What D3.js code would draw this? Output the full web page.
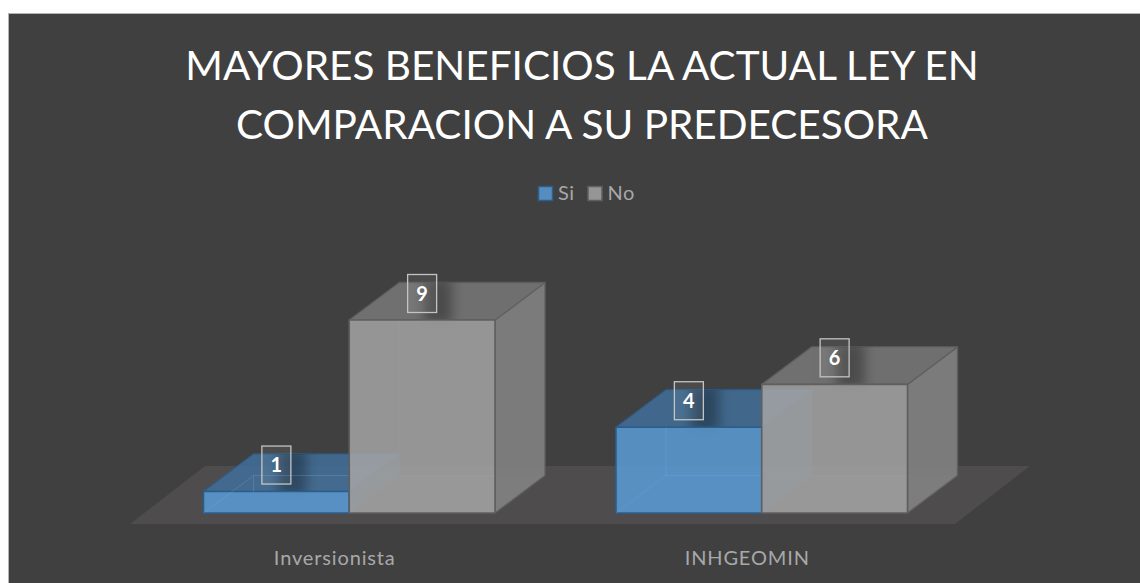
<!DOCTYPE html>
<html><head><meta charset="utf-8">
<script src="https://cdn.jsdelivr.net/npm/d3@7"></script>
<style>html,body{margin:0;padding:0;background:#fff;overflow:hidden}svg{display:block}text{font-family:Lato,"Open Sans",sans-serif}</style>
</head><body><div id="c"></div>
<script>
const titleLines = ["MAYORES BENEFICIOS LA ACTUAL LEY EN","COMPARACION A SU PREDECESORA"];
const categories = ["Inversionista","INHGEOMIN"];
const seriesNames = ["Si","No"];
const siValues = [1,4];
const noValues = [9,6];

const W=1140,H=583;
const svg=d3.select("#c").append("svg").attr("width",W).attr("height",H);
const defs=svg.append("defs");
defs.append("filter").attr("id","blur").attr("x","-60%").attr("y","-60%").attr("width","220%").attr("height","220%")
  .append("feGaussianBlur").attr("stdDeviation",6);

svg.append("rect").attr("x",8.5).attr("y",13.5).attr("width",W).attr("height",H)
  .attr("fill","#404040").attr("stroke","#b4b4b4").attr("stroke-width",1);

const x0=d3.scaleBand().domain(categories).range([130,955]);
const x1=d3.scaleBand().domain(seriesNames).range([73.5,365]);
const y=d3.scaleLinear().domain([0,9]).range([513,320]);
const dx=50,dy=-37.5;
const floorY0=524, floorX=75, floorDy=-58;

const poly=(pts)=>d3.line()(pts)+"Z";
const g=svg.append("g");

// floor
g.append("path").attr("d",poly([[x0.range()[0],floorY0],[x0.range()[1],floorY0],[x0.range()[1]+floorX,floorY0+floorDy],[x0.range()[0]+floorX,floorY0+floorDy]]))
 .attr("fill","#4e4c4c");

const styles={
  Si:{front:"#5b9bd5",top:"#41719c",side:"#4a80b0",back:"#5b9bd5",stroke:"#2c5e8c",inner:"#7fb2e2",innerAlpha:.25,alpha:.85,topAlpha:.8,sideAlpha:.3},
  No:{front:"#a5a5a5",top:"#757575",side:"#808080",back:"#a5a5a5",stroke:"#5f5f5f",inner:"#b4b4b4",innerAlpha:.1,alpha:.84,topAlpha:.88,sideAlpha:.92}
};
const rows=[];
categories.forEach((c,i)=>{
  rows.push({c,s:"Si",v:siValues[i]});
  rows.push({c,s:"No",v:noValues[i]});
});

rows.forEach((d,i)=>{
  const st=styles[d.s];
  const xa=x0(d.c)+x1(d.s), xb=xa+x1.bandwidth();
  const yb=y(0), yt=y(d.v);
  const gb=g.append("g");
  const face=(pts,fill,op,sw,sop)=>gb.append("path").attr("d",poly(pts)).attr("fill",fill).attr("fill-opacity",op)
      .attr("stroke",st.stroke).attr("stroke-width",sw).attr("stroke-opacity",sop).attr("stroke-linejoin","round");
  face([[xa+dx,yb+dy],[xb+dx,yb+dy],[xb+dx,yt+dy],[xa+dx,yt+dy]],st.back,.06,1,.2);
  face([[xa,yb],[xb,yb],[xb+dx,yb+dy],[xa+dx,yb+dy]],st.back,.12,1,.2);
  face([[xa,yb],[xa+dx,yb+dy],[xa+dx,yt+dy],[xa,yt]],st.back,.08,1,.2);
  face([[xb,yb],[xb+dx,yb+dy],[xb+dx,yt+dy],[xb,yt]],st.side,st.sideAlpha,1.4,st.sideAlpha);
  const topPts=[[xa,yt],[xb,yt],[xb+dx,yt+dy],[xa+dx,yt+dy]];
  face(topPts,st.top,st.topAlpha,1.4,.8);
  // label shadow, confined to the bar's top face and upper front
  const clipId="shadow-clip-"+i;
  defs.append("clipPath").attr("id",clipId).append("path")
    .attr("d",poly([[xa,yt+8],[xb,yt+8],[xb,yt],[xb+dx,yt+dy],[xa+dx,yt+dy],[xa,yt]]));
  gb.append("g").attr("clip-path",`url(#${clipId})`)
    .append("rect").attr("x",(xa+xb)/2+2).attr("y",yt-42).attr("width",28).attr("height",46)
    .attr("fill","#000").attr("opacity",.32).attr("filter","url(#blur)");
  face([[xa,yb],[xb,yb],[xb,yt],[xa,yt]],st.front,st.alpha,1.6,1);
  // hidden edges seen through the translucent front
  gb.append("path").attr("d",d3.line()([[xa,yb],[xa+dx,yb+dy],[xa+dx,yt]])+d3.line()([[xa+dx,yb+dy],[xb,yb+dy]]))
    .attr("fill","none").attr("stroke",st.inner).attr("stroke-width",1).attr("stroke-opacity",st.innerAlpha);
  d.cx=(xa+xb)/2; d.yt=yt;
});

// value labels
const lab=svg.append("g").selectAll("g").data(rows).join("g")
  .attr("transform",d=>`translate(${d.cx},${d.yt-26.5})`);
lab.append("rect").attr("x",-14.5).attr("y",-19).attr("width",29).attr("height",38)
  .attr("fill","#fff").attr("fill-opacity",.06).attr("stroke","#c4c4c4").attr("stroke-width",1.3);
lab.append("text").attr("text-anchor","middle").attr("y",7).attr("font-size",20).attr("font-weight",700)
  .attr("fill","#fff").text(d=>d.v);

// category axis
const ax=svg.append("g").attr("transform","translate(-1.5,524)").call(d3.axisBottom(x0).tickSize(0).tickPadding(27));
ax.select(".domain").remove();
ax.selectAll("text").attr("font-size",20).attr("fill","#a8a8a8").attr("letter-spacing",.85).style("font-family","Lato");

// title
svg.append("g").selectAll("text").data(titleLines).join("text")
  .attr("x",582).attr("y",(d,i)=>80+i*59).attr("text-anchor","middle")
  .attr("font-size",40.5).attr("fill","#fff").text(d=>d);

// legend
const legX=d3.scaleOrdinal().domain(seriesNames).range([538,587.5]);
const leg=svg.append("g").selectAll("g").data(seriesNames).join("g")
  .attr("transform",d=>`translate(${legX(d)},186)`);
leg.append("rect").attr("x",.5).attr("y",.5).attr("width",14).attr("height",14)
  .attr("fill",d=>styles[d].front).attr("fill-opacity",.85).attr("stroke",d=>styles[d].stroke).attr("stroke-width",1.5);
leg.append("text").attr("x",20).attr("y",14).attr("font-size",20).attr("letter-spacing",.5).attr("fill","#a8a8a8").text(d=>d);
</script></body></html>
